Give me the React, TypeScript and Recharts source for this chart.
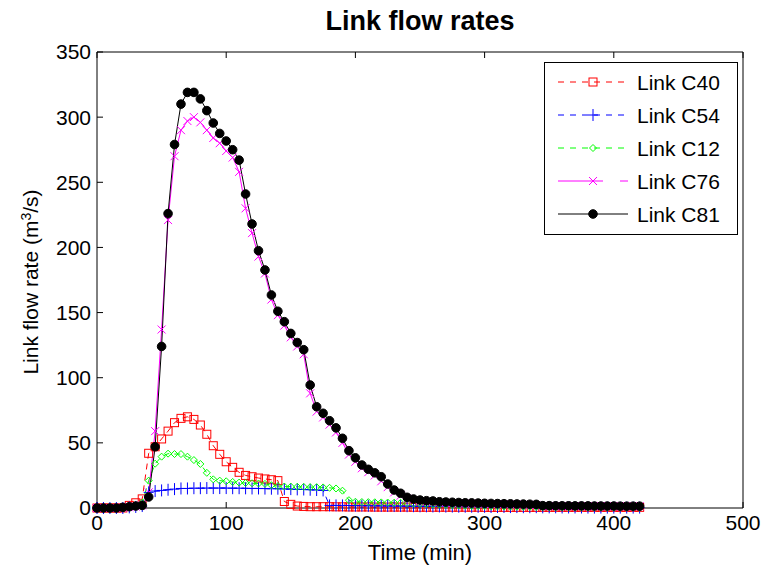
import React from "react";
import { LineChart, Line, XAxis, YAxis } from "recharts";

// time axis, minutes
const time = [
  0, 5, 10, 15, 20, 25, 30, 35, 40, 45, 50, 55, 60, 65, 70, 75, 80, 85, 90, 95,
  100, 105, 110, 115, 120, 125, 130, 135, 140, 145, 150, 155, 160, 165, 170, 175, 180, 185, 190, 195,
  200, 205, 210, 215, 220, 225, 230, 235, 240, 245, 250, 255, 260, 265, 270, 275, 280, 285, 290, 295,
  300, 305, 310, 315, 320, 325, 330, 335, 340, 345, 350, 355, 360, 365, 370, 375, 380, 385, 390, 395,
  400, 405, 410, 415, 420,
];

const c40 = [
  0, 0, 0, 0, 0, 2, 4, 7, 42, 47, 53, 59, 65.5, 68.8, 70, 68, 63.7, 56.6, 47.8, 41.2,
  35.5, 31.2, 27.4, 25, 24, 23, 22.3, 21.7, 21, 5, 2.8, 1.5, 1.2, 1, 1, 1, 1, 0.9, 0.9, 0.8,
  0.8, 0.8, 0.8, 0.7, 0.7, 0.7, 0.7, 0.7, 0.7, 0.6, 0.6, 0.6, 0.6, 0.6, 0.6, 0.6, 0.6, 0.6, 0.6, 0.6,
  0.5, 0.5, 0.5, 0.5, 0.5, 0.5, 0.5, 0.5, 0.5, 0.5, 0.5, 0.5, 0.5, 0.5, 0.5, 0.5, 0.5, 0.5, 0.5, 0.5,
  0.5, 0.5, 0.5, 0.5, 0.5,
];

const c54 = [
  0, 0, 0, 0, 0, 0.5, 0.8, 1.5, 12, 13, 13.5, 14, 14.5, 15, 15, 15.2, 15.2, 15.3, 15.3, 15.3,
  15.3, 15.2, 15.2, 15.1, 15, 15, 14.9, 14.8, 14.8, 14.6, 14.5, 14.3, 14.2, 14, 13.8, 13.5, 2, 2, 2, 1.9,
  1.8, 1.8, 1.7, 1.7, 1.6, 1.6, 1.5, 1.5, 1.4, 1.4, 1.3, 1.3, 1.2, 1.2, 1.1, 1.1, 1, 1, 1, 0.9,
  0.9, 0.8, 0.8, 0.8, 0.7, 0.7, 0.6, 0.6, 0.6, 0.5, 0.5, 0.5, 0.4, 0.4, 0.4, 0.4, 0.3, 0.3, 0.3, 0.3,
  0.3, 0.3, 0.3, 0.3, 0.3,
];

const c12 = [
  0, 0, 0, 0, 0.3, 1, 2, 4, 21, 34, 39.4, 41.7, 41.4, 41.4, 39.4, 36.8, 33.8, 27, 22, 21,
  20.5, 20, 19.5, 19.2, 19, 18.8, 18.5, 17.5, 16.8, 16.5, 16.4, 16.3, 16.2, 16, 16, 15.8, 15.5, 15, 13.3, 6,
  4.8, 4.6, 4.5, 4.4, 4.3, 4.2, 4.1, 4, 3.8, 3.5, 3.2, 3, 2.8, 2.6, 2.4, 2.2, 2, 1.8, 1.6, 1.5,
  1.4, 1.3, 1.2, 1.1, 1, 1, 0.9, 0.9, 0.8, 0.8, 0.8, 0.7, 0.7, 0.7, 0.6, 0.6, 0.6, 0.6, 0.5, 0.5,
  0.5, 0.5, 0.5, 0.5, 0.5,
];

const c76 = [
  0, 0, 0, 0, 0.3, 0.8, 1.2, 2, 12, 59, 137, 221, 270, 290, 297, 300, 296, 290, 284, 280,
  274, 269, 258, 230, 211, 193, 180, 160, 148, 140, 131, 124, 118, 88, 74, 69.5, 64, 58, 50, 41,
  35.5, 30.5, 27.5, 25, 20.5, 16, 12, 9.5, 7, 6, 5.3, 4.9, 4.6, 4.2, 4, 3.8, 3.6, 3.5, 3.4, 3.3,
  3.2, 3.1, 3, 2.9, 2.8, 2.7, 2.6, 2.5, 2.4, 1.6, 1.6, 1.5, 1.5, 1.5, 1.5, 1.4, 1.4, 1.4, 1.4, 1.3,
  1.3, 1.3, 1.3, 1.3, 1.3,
];

const c81 = [
  0, 0, 0, 0, 0.5, 1, 1.5, 2, 8.5, 47, 124, 226, 279, 310, 319, 319, 314, 305, 295.5, 287.5,
  281.7, 275, 267, 241, 218, 197.5, 182.7, 163.5, 151, 143, 134, 127, 121.5, 94.4, 77.7, 72.7, 67, 61.5, 53.5, 44,
  38.5, 33, 29.7, 27, 24, 18.4, 13.8, 11.3, 8.2, 6.9, 6.1, 5.6, 5.4, 4.8, 4.6, 4.4, 4.2, 4, 3.9, 3.8,
  3.6, 3.5, 3.4, 3.3, 3.2, 3.1, 3, 2.9, 2.8, 1.8, 1.8, 1.7, 1.7, 1.7, 1.6, 1.6, 1.6, 1.5, 1.5, 1.5,
  1.5, 1.4, 1.4, 1.4, 1.4,
];

const xTicks = [0, 100, 200, 300, 400, 500];
const yTicks = [0, 50, 100, 150, 200, 250, 300, 350];

const FONT = "'Liberation Sans', Arial, Helvetica, sans-serif";

const data = time.map((t, i) => ({
  t,
  c40: c40[i],
  c54: c54[i],
  c12: c12[i],
  c76: c76[i],
  c81: c81[i],
}));

// marker shapes (matlab style)
function markerShape(kind: string, cx: number, cy: number, key?: any) {
  if (kind === "square")
    return <rect key={key} x={cx - 4} y={cy - 4} width={8} height={8} fill="none" stroke="#ff0000" strokeWidth={1} />;
  if (kind === "plus")
    return (
      <path key={key} d={`M${cx - 5},${cy}H${cx + 5}M${cx},${cy - 6}V${cy + 6}`} stroke="#0000ff" strokeWidth={1} fill="none" />
    );
  if (kind === "diamond")
    return (
      <path key={key} d={`M${cx},${cy - 3.5}L${cx + 3.5},${cy}L${cx},${cy + 3.5}L${cx - 3.5},${cy}Z`} stroke="#00ff00" strokeWidth={1} fill="none" />
    );
  if (kind === "cross")
    return (
      <path key={key} d={`M${cx - 4},${cy - 4}L${cx + 4},${cy + 4}M${cx - 4},${cy + 4}L${cx + 4},${cy - 4}`} stroke="#ff00ff" strokeWidth={1} fill="none" />
    );
  return <circle key={key} cx={cx} cy={cy} r={4.3} fill="#000" stroke="#000" />;
}

const dotFor = (kind: string) => (p: any) => {
  if (p.cx == null || p.cy == null) return <g key={p.index} />;
  return markerShape(kind, p.cx, p.cy, p.index);
};

// hidden tick labels on the box sides, tick marks stay
const NoLabel = () => <g />;

const legendItems = [
  { name: "Link C40", color: "#ff0000", kind: "square", dash: "6 6" },
  { name: "Link C54", color: "#0000ff", kind: "plus", dash: "6 6" },
  { name: "Link C12", color: "#00ff00", kind: "diamond", dash: "6 6" },
  { name: "Link C76", color: "#ff00ff", kind: "cross", dash: "45 17 8 100" },
  { name: "Link C81", color: "#000000", kind: "dot", dash: undefined },
];

function LegendBox() {
  return (
    <svg
      width={194}
      height={173}
      style={{ position: "absolute", left: 544, top: 62, fontFamily: FONT }}
    >
      <rect x={0.5} y={0.5} width={193} height={172} fill="#fff" stroke="#000" />
      {legendItems.map((it, i) => {
        const y = 20 + i * 33;
        return (
          <g key={it.name}>
            <line x1={14} x2={84} y1={y} y2={y} stroke={it.color} strokeDasharray={it.dash} />
            {markerShape(it.kind, 49, y)}
            <text x={93} y={y + 7.5} fontSize={21} fill="#000">
              {it.name}
            </text>
          </g>
        );
      })}
    </svg>
  );
}

export default function App() {
  const tickStyle = { fill: "#000", fontSize: 21, fontFamily: FONT };
  return (
    <div style={{ position: "absolute", left: 0, top: 0, width: 771, height: 576, background: "#fff", fontFamily: FONT }}>
      <div
        style={{
          position: "absolute",
          left: 0,
          width: 840,
          top: 6,
          textAlign: "center",
          fontSize: 27,
          fontWeight: "bold",
          color: "#000",
        }}
      >
        Link flow rates
      </div>

      <LineChart
        width={771}
        height={576}
        data={data}
        margin={{ top: 51, right: 27, left: 0, bottom: 0 }}
        style={{ position: "absolute", left: 0, top: 0 }}
      >
        <XAxis
          dataKey="t"
          type="number"
          domain={[0, 500]}
          ticks={xTicks}
          height={68}
          tickSize={-6}
          tickMargin={13}
          tick={tickStyle}
          axisLine={{ stroke: "#000" }}
          tickLine={{ stroke: "#000" }}
          interval={0}
        />
        <XAxis
          xAxisId="top"
          orientation="top"
          dataKey="t"
          type="number"
          domain={[0, 500]}
          ticks={xTicks}
          height={1}
          tickSize={-6}
          tick={NoLabel}
          axisLine={{ stroke: "#000" }}
          tickLine={{ stroke: "#000" }}
          interval={0}
        />
        <YAxis
          type="number"
          domain={[0, 350]}
          ticks={yTicks}
          width={97}
          tickSize={-6}
          tickMargin={12}
          tick={tickStyle}
          axisLine={{ stroke: "#000" }}
          tickLine={{ stroke: "#000" }}
          interval={0}
        />
        <YAxis
          yAxisId="right"
          orientation="right"
          type="number"
          domain={[0, 350]}
          ticks={yTicks}
          width={1}
          tickSize={-6}
          tick={NoLabel}
          axisLine={{ stroke: "#000" }}
          tickLine={{ stroke: "#000" }}
          interval={0}
        />
        <Line dataKey="c40" stroke="#ff0000" strokeWidth={1} strokeDasharray="6 5" dot={dotFor("square")} activeDot={false} isAnimationActive={false} />
        <Line dataKey="c54" stroke="#0000ff" strokeWidth={1} strokeDasharray="6 5" dot={dotFor("plus")} activeDot={false} isAnimationActive={false} />
        <Line dataKey="c12" stroke="#00ff00" strokeWidth={1} strokeDasharray="6 5" dot={dotFor("diamond")} activeDot={false} isAnimationActive={false} />
        <Line dataKey="c76" stroke="#ff00ff" strokeWidth={1} dot={dotFor("cross")} activeDot={false} isAnimationActive={false} />
        <Line dataKey="c81" stroke="#000000" strokeWidth={1} dot={dotFor("dot")} activeDot={false} isAnimationActive={false} />
      </LineChart>

      <LegendBox />

      <div
        style={{
          position: "absolute",
          left: 420,
          top: 553,
          transform: "translate(-50%, -50%)",
          fontSize: 22,
          whiteSpace: "nowrap",
          color: "#000",
        }}
      >
        Time (min)
      </div>
      <div
        style={{
          position: "absolute",
          left: 30,
          top: 282,
          transform: "translate(-50%, -50%) rotate(-90deg)",
          fontSize: 21,
          whiteSpace: "nowrap",
          color: "#000",
        }}
      >
        Link flow rate (m<sup style={{ fontSize: 14, verticalAlign: "7px" }}>3</sup>/s)
      </div>
    </div>
  );
}
